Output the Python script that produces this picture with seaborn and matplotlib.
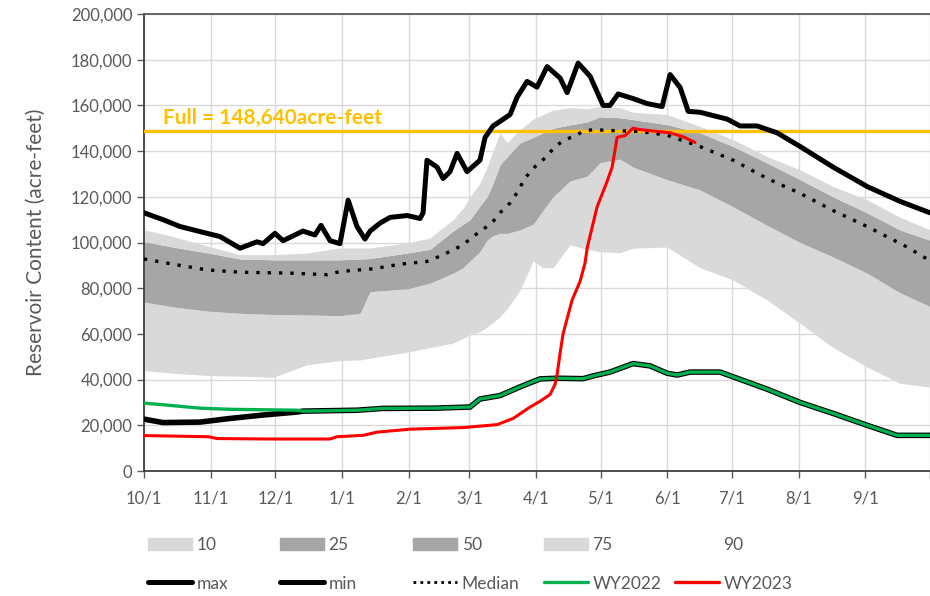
import matplotlib
matplotlib.use("Agg")
import matplotlib.pyplot as plt
from matplotlib.lines import Line2D
from matplotlib.patches import Patch
from matplotlib.ticker import FuncFormatter
import seaborn as sns

# x values are days into the water year (day 0 = Oct 1)
MONTH_DAYS = [0, 31, 61, 92, 123, 151, 182, 212, 243, 273, 304, 335, 365]
MONTH_LABELS = ["10/1", "11/1", "12/1", "1/1", "2/1", "3/1", "4/1", "5/1",
                "6/1", "7/1", "8/1", "9/1", ""]

FULL_POOL = 148640

# percentile envelope of historical storage
BAND_DAYS = [0, 13.5, 29.3, 44.6, 60, 75.7, 91, 100.3, 105, 122.2, 132.8, 143.5,
             148.2, 151.4, 156, 159.3, 162.1, 165.3, 168.6, 174.6, 180.7, 185.3,
             190, 197.9, 205.8, 211.8, 221, 227.1, 242.9, 258.2, 273.6, 289.4,
             304.7, 320, 335.8, 351.1, 365]
P10 = [43900, 42800, 41800, 41500, 41000, 46500, 48300, 48600, 49400, 52000, 54000, 56000,
       58000, 59500, 61000, 63000, 65000, 67500, 71000, 79000, 92000, 89000,
       89000, 99000, 97000, 96000, 95500, 97500, 98000, 89000, 83600, 74800,
       64600, 54000, 45500, 38400, 36700]
P25 = [73900, 71800, 70000, 69000, 68500, 68300, 68000, 69000, 78500, 79700, 82200, 86500,
       89000, 92000, 96000, 101000, 103000, 104000, 104000, 105500, 108000, 114000,
       120000, 127000, 129000, 135000, 136500, 133000, 127500, 123000, 115600, 107500,
       100000, 93700, 86600, 78000, 72000]
P75 = [100400, 98000, 95500, 92800, 92400, 92400, 92400, 92800, 93000, 95400, 97000, 105000,
       108000, 110000, 116000, 120000, 126000, 134000, 137500, 143600, 146000, 148000,
       150000, 151500, 152800, 155000, 154600, 153800, 151600, 148000, 142000, 134800,
       127500, 120000, 113000, 105500, 101000]
P90 = [105600, 102600, 98500, 94700, 94700, 95400, 97600, 97600, 97600, 99800, 102000, 110000,
       115000, 120000, 126000, 133000, 140000, 148000, 143700, 149400, 154000, 156000,
       158000, 159000, 158500, 159600, 159000, 157000, 156000, 150800, 145000, 137600,
       131800, 124500, 118700, 111000, 105600]

MEDIAN_DAYS = [0, 13.5, 29.3, 44.6, 67.8, 85, 91, 106.4, 118.9, 131.4, 138.9, 148.2, 152.8,
               161.6, 165.3, 170, 173.2, 177, 181.6, 186.3, 190.9, 195.5, 199.3, 203.9,
               208.5, 216.4, 230.4, 242.9, 258.2, 273.6, 289.4, 304.7, 320, 335.8, 354.4, 365]
MEDIAN = [92800, 90500, 88000, 87000, 86600, 85900, 87300, 88500, 90500, 91700, 94600, 99000,
          102600, 108600, 113000, 117300, 121700, 128300, 133200, 137000, 142000, 145000,
          146300, 148600, 149400, 149000, 148600, 147000, 142000, 136000, 128000, 121500,
          114000, 107000, 98000, 92000]

MAX_DAYS = [0, 8.8, 16.7, 29.3, 35.3, 44.6, 52.5, 55.3, 60.8, 64.6, 73.8, 79.4, 82.2, 86.4,
            91, 94.8, 98.9, 102.6, 105, 109.6, 114.3, 122.2, 128.2, 129.6, 131.4, 136.1,
            138.9, 142.1, 145.4, 150, 156, 158.4, 162.1, 165.3, 170, 173.2, 177.9, 182.5,
            187.2, 193.2, 196.5, 201.6, 207.2, 213.2, 216.4, 220.2, 227.1, 233.6, 240.6,
            244.3, 249, 252.7, 258.2, 270.8, 276.8, 284.7, 294, 304.7, 320, 335.8, 351.1, 365]
MAX_AF = [113000, 110000, 107000, 104000, 102600, 97500, 100300, 99500, 104000, 100800,
          105000, 103300, 107500, 100800, 99500, 118500, 107000, 101500, 105000, 108500,
          111000, 111800, 110500, 113000, 136000, 133000, 128000, 131000, 139000, 131000,
          136000, 146000, 151000, 153000, 156000, 163500, 170500, 168000, 177000, 172000,
          165600, 178500, 172700, 160000, 160000, 165000, 163000, 160800, 159500, 173500,
          167800, 157400, 157000, 154000, 151000, 151000, 148000, 142000, 133000, 124500,
          118000, 113000]

WY2022_DAYS = [0, 8.8, 26, 40, 71, 73.8, 98.9, 111, 135.2, 151.4, 156, 165.3, 174.6, 183.9,
               191.8, 203.9, 208.5, 216.4, 227.1, 235, 242.9, 247.6, 253.6, 267.5, 289.4,
               304.7, 320, 335.8, 349.7, 365]
WY2022 = [29700, 29000, 27500, 27000, 26600, 26200, 26600, 27400, 27500, 28000, 31500, 33000,
          36800, 40300, 40600, 40400, 41600, 43300, 47000, 46000, 42800, 42000, 43300, 43300,
          35800, 30000, 25200, 20000, 15600, 15600]

# minimum of record: own values early in the year, then it is WY2022
MIN_EARLY_DAYS = [0, 8.8, 26, 40, 55.3, 71]
MIN_EARLY = [22700, 21200, 21400, 23000, 24500, 25800]

WY2023_DAYS = [0, 30, 33.9, 58.5, 86.4, 89.6, 101.7, 108.2, 123.5, 148.2, 164, 171.4, 174.6,
               179.3, 183.9, 188.6, 190.9, 191.8, 193.2, 194.6, 198.8, 202.5, 204.8, 205.8,
               210.4, 215, 217.4, 219.7, 223.4, 227.1, 230.4, 238.3, 244.3, 250.3, 255.9]
WY2023 = [15500, 15000, 14200, 14000, 14000, 15000, 15600, 17000, 18300, 19000, 20300, 23000,
          25000, 28000, 30500, 33500, 38000, 42000, 51500, 60000, 74800, 83000, 91000, 97600,
          115600, 126600, 133000, 146000, 146800, 150000, 149400, 148600, 148000, 146300, 143800]

LIGHT = "#d9d9d9"
DARK = "#a6a6a6"
TEXT = "#595959"
ORANGE = "#ffc000"
GREEN = "#00b050"
RED = "#ff0000"

sns.set_theme(style="white")
plt.rcParams["font.family"] = ["Lato", "DejaVu Sans"]

fig = plt.figure(figsize=(9.3, 5.96), dpi=100)
ax = fig.add_axes([144 / 930, 1 - 471 / 596, 786 / 930, 457 / 596])

ax.fill_between(BAND_DAYS, P10, P25, color=LIGHT, linewidth=0)
ax.fill_between(BAND_DAYS, P25, P75, color=DARK, linewidth=0)
ax.fill_between(BAND_DAYS, P75, P90, color=LIGHT, linewidth=0)

ax.axhline(FULL_POOL, color=ORANGE, linewidth=2.4, zorder=3)
ax.text(8.8, FULL_POOL + 1500, "Full = 148,640acre-feet", color=ORANGE,
        fontsize=15, fontweight="bold", va="bottom", ha="left")

sns.lineplot(x=MEDIAN_DAYS, y=MEDIAN, ax=ax, color="black", linewidth=2.4,
             linestyle=(0, (1, 2.4)), zorder=4)
sns.lineplot(x=MAX_DAYS, y=MAX_AF, ax=ax, color="black", linewidth=3.6, zorder=5)
min_days = MIN_EARLY_DAYS + WY2022_DAYS[5:]
min_af = MIN_EARLY + WY2022[5:]
sns.lineplot(x=min_days, y=min_af, ax=ax, color="black", linewidth=4.0, zorder=5)
sns.lineplot(x=WY2022_DAYS, y=WY2022, ax=ax, color=GREEN, linewidth=2.4, zorder=6)
sns.lineplot(x=WY2023_DAYS, y=WY2023, ax=ax, color=RED, linewidth=2.2, zorder=7)

ax.set_xlim(0, 365)
ax.set_ylim(0, 200000)
ax.set_xticks(MONTH_DAYS)
ax.set_xticklabels(MONTH_LABELS)
ax.set_yticks(range(0, 200001, 20000))
ax.yaxis.set_major_formatter(FuncFormatter(lambda v, _: f"{v:,.0f}"))
ax.grid(True, color=LIGHT, linewidth=1.0)
ax.set_axisbelow(True)
ax.tick_params(axis="both", which="both", direction="out", length=5, width=1,
               color=TEXT, labelcolor=TEXT, labelsize=12, left=True, bottom=True)
ax.tick_params(axis="x", pad=9)
for side in ["left", "bottom"]:
    ax.spines[side].set_color("#404040")
    ax.spines[side].set_linewidth(1.3)
ax.spines["top"].set_color("#595959")
ax.spines["top"].set_linewidth(1.3)
ax.spines["right"].set_visible(False)
ax.set_ylabel("Reservoir Content (acre-feet)", color=TEXT, fontsize=15, labelpad=18)
ax.set_xlabel("")

# legend: Excel-style 5 columns x 2 rows, one small legend per column
band_handles = [Patch(color=LIGHT), Patch(color=DARK), Patch(color=DARK), Patch(color=LIGHT),
                Patch(facecolor="none", edgecolor="none")]
band_labels = ["10", "25", "50", "75", "90"]
line_handles = [
    Line2D([], [], color="black", linewidth=3.6, solid_capstyle="round"),
    Line2D([], [], color="black", linewidth=3.6, solid_capstyle="round"),
    Line2D([], [], color="black", linewidth=2.0, linestyle=(0, (1, 1.5))),
    Line2D([], [], color=GREEN, linewidth=2.4),
    Line2D([], [], color=RED, linewidth=2.4),
]
line_labels = ["max", "min", "Median", "WY2022", "WY2023"]
col_x = [148, 280, 413, 544, 675]
for i, x in enumerate(col_x):
    leg = fig.legend([band_handles[i], line_handles[i]], [band_labels[i], line_labels[i]],
                     loc="upper left", bbox_to_anchor=(x / 930, 1 - 537 / 596),
                     frameon=False, fontsize=12.5, handlelength=2.55, handleheight=0.75,
                     handletextpad=0.25, labelspacing=1.3, borderpad=0, borderaxespad=0,
                     labelcolor=TEXT)

fig.savefig("out.png", dpi=100)
